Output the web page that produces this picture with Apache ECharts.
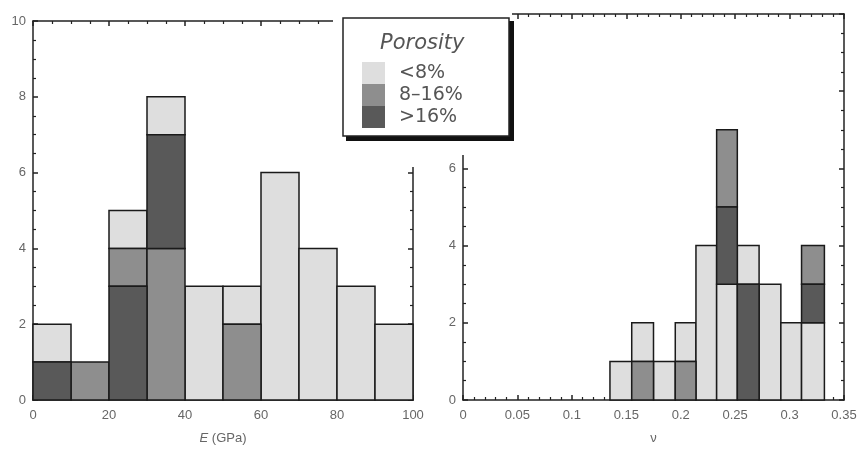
<!DOCTYPE html>
<html>
<head>
<meta charset="utf-8">
<script src="https://cdn.jsdelivr.net/npm/echarts@6/dist/echarts.min.js"></script>
<style>
  html, body { margin: 0; padding: 0; background: #fff; }
  #chart { width: 862px; height: 450px; }
</style>
</head>
<body>
<div id="chart"></div>
<script>
// porosity classes
const classes = ['<8%', '8–16%', '>16%'];
const classColors = { '<8%': '#dedede', '8–16%': '#8e8e8e', '>16%': '#595959' };

// left: Young's modulus E (GPa), bins of 10
const eEdges  = [0, 10, 20, 30, 40, 50, 60, 70, 80, 90, 100];
const eLow    = [1, 0, 1, 1, 3, 1, 6, 4, 3, 2];   // <8%
const eMid    = [0, 1, 1, 4, 0, 2, 0, 0, 0, 0];   // 8-16%
const eHigh   = [1, 0, 3, 3, 0, 0, 0, 0, 0, 0];   // >16%
const eOrder  = [
    ['>16%', '8–16%', '<8%'], ['>16%', '8–16%', '<8%'], ['>16%', '8–16%', '<8%'],
    ['8–16%', '>16%', '<8%'], ['>16%', '8–16%', '<8%'], ['>16%', '8–16%', '<8%'],
    ['>16%', '8–16%', '<8%'], ['>16%', '8–16%', '<8%'], ['>16%', '8–16%', '<8%'],
    ['>16%', '8–16%', '<8%']
];

// right: Poisson's ratio v
const vEdges  = [0.135, 0.155, 0.175, 0.195, 0.214, 0.233, 0.252, 0.272, 0.292, 0.311, 0.332];
const vLow    = [1, 1, 1, 1, 4, 3, 1, 3, 2, 2];
const vMid    = [0, 1, 0, 1, 0, 2, 0, 0, 0, 1];
const vHigh   = [0, 0, 0, 0, 0, 2, 3, 0, 0, 1];
const vOrder  = [
    ['8–16%', '<8%', '>16%'], ['8–16%', '<8%', '>16%'], ['8–16%', '<8%', '>16%'],
    ['8–16%', '<8%', '>16%'], ['8–16%', '<8%', '>16%'], ['<8%', '>16%', '8–16%'],
    ['>16%', '<8%', '8–16%'], ['<8%', '>16%', '8–16%'], ['<8%', '>16%', '8–16%'],
    ['<8%', '>16%', '8–16%']
];

// turn counts + stacking order into [x0, x1, y0, y1] boxes per class
function boxes(edges, low, mid, high, order) {
    const counts = { '<8%': low, '8–16%': mid, '>16%': high };
    const out = { '<8%': [], '8–16%': [], '>16%': [] };
    for (let i = 0; i < edges.length - 1; i++) {
        let base = 0;
        order[i].forEach(c => {
            const n = counts[c][i];
            if (n > 0) out[c].push([edges[i], edges[i + 1], base, base + n]);
            base += n;
        });
    }
    return out;
}

const eBoxes = boxes(eEdges, eLow, eMid, eHigh, eOrder);
const vBoxes = boxes(vEdges, vLow, vMid, vHigh, vOrder);

function renderBox(params, api) {
    const p0 = api.coord([api.value(0), api.value(2)]);
    const p1 = api.coord([api.value(1), api.value(3)]);
    return {
        type: 'rect',
        shape: { x: p0[0], y: p1[1], width: p1[0] - p0[0], height: p0[1] - p1[1] },
        style: { fill: api.visual('color'), stroke: '#1a1a1a', lineWidth: 1.5 }
    };
}

const labelStyle = { color: '#666', fontFamily: 'Liberation Sans', fontSize: 13 };
const lineSt = { onZero: false, lineStyle: { color: '#222', width: 1.5 } };
const tickIn = { inside: true, length: 5, lineStyle: { color: '#222', width: 1.5 } };
const minorIn = { show: true, length: 3, lineStyle: { color: '#222', width: 1.2 } };

function axesFor(gi, xmin, xmax, xint, xminor, xname, fmt) {
    const x = [
        {
            type: 'value', gridIndex: gi, min: xmin, max: xmax, interval: xint,
            position: 'bottom',
            axisLine: lineSt,
            axisTick: tickIn, minorTick: Object.assign({ splitNumber: xminor }, minorIn),
            splitLine: { show: false },
            axisLabel: Object.assign({ margin: 9, formatter: fmt }, labelStyle),
            name: xname, nameLocation: 'middle', nameGap: 32,
            nameTextStyle: {
                color: '#666', fontFamily: 'Liberation Sans', fontSize: 13,
                rich: { i: { fontStyle: 'italic', color: '#666', fontSize: 13, fontFamily: 'Liberation Sans' } }
            }
        },
        {
            type: 'value', gridIndex: gi, min: xmin, max: xmax, interval: xint,
            position: 'top',
            axisLine: lineSt,
            axisTick: tickIn, minorTick: Object.assign({ splitNumber: xminor }, minorIn),
            splitLine: { show: false }, axisLabel: { show: false }
        }
    ];
    const y = [
        {
            type: 'value', gridIndex: gi, min: 0, max: 10, interval: 2,
            position: 'left',
            axisLine: lineSt,
            axisTick: tickIn, minorTick: Object.assign({ splitNumber: 4 }, minorIn),
            splitLine: { show: false },
            axisLabel: Object.assign({ margin: 7 }, labelStyle)
        },
        {
            type: 'value', gridIndex: gi, min: 0, max: 10, interval: 2,
            position: 'right',
            axisLine: lineSt,
            axisTick: tickIn, minorTick: Object.assign({ splitNumber: 4 }, minorIn),
            splitLine: { show: false }, axisLabel: { show: false }
        }
    ];
    return { x, y };
}

const a0 = axesFor(0, 0, 100, 20, 4, '{i|E} (GPa)', v => v);
const a1 = axesFor(1, 0, 0.35, 0.05, 5, 'ν', v => (v === 0 ? '0' : String(+v.toFixed(2))));

const series = [];
classes.forEach(c => {
    series.push({
        name: c, type: 'custom', xAxisIndex: 0, yAxisIndex: 0,
        itemStyle: { color: classColors[c] },
        renderItem: renderBox, data: eBoxes[c], encode: { x: [0, 1], y: [2, 3] }
    });
    series.push({
        name: c, type: 'custom', xAxisIndex: 2, yAxisIndex: 2,
        itemStyle: { color: classColors[c] },
        renderItem: renderBox, data: vBoxes[c], encode: { x: [0, 1], y: [2, 3] }
    });
});

const chart = echarts.init(document.getElementById('chart'), null, { renderer: 'canvas' });
chart.setOption({
    animation: false,
    backgroundColor: '#fff',
    grid: [
        { left: 33, top: 21, width: 380, height: 379 },
        { left: 463, top: 14, width: 381, height: 386 }
    ],
    xAxis: a0.x.concat(a1.x),
    yAxis: a0.y.concat(a1.y),
    series: series,
    legend: {
        data: classes,
        orient: 'vertical',
        left: 362, top: 62, padding: 0,
        itemWidth: 23, itemHeight: 22, itemGap: 0,
        icon: 'rect',
        selectedMode: false,
        z: 20,
        textStyle: { color: '#555', fontFamily: 'DejaVu Sans', fontSize: 19, padding: [0, 0, 0, 9] }
    },
    graphic: [
        // blank patch behind the legend box
        { type: 'rect', z: 10, shape: { x: 333, y: 0, width: 108, height: 167 }, style: { fill: '#fff' } },
        { type: 'rect', z: 10, shape: { x: 440, y: 0, width: 72, height: 155 }, style: { fill: '#fff' } },
        // box shadow and frame
        { type: 'rect', z: 11, shape: { x: 346, y: 21, width: 168, height: 120 }, style: { fill: '#111' } },
        { type: 'rect', z: 12, shape: { x: 343, y: 18, width: 166, height: 118 },
          style: { fill: '#fff', stroke: '#222', lineWidth: 1.5 } },
        { type: 'text', z: 13, left: 380, top: 33,
          style: { text: 'Porosity', fill: '#555', fontFamily: 'DejaVu Sans', fontStyle: 'italic', fontSize: 21 } }
    ]
});
</script>
</body>
</html>
